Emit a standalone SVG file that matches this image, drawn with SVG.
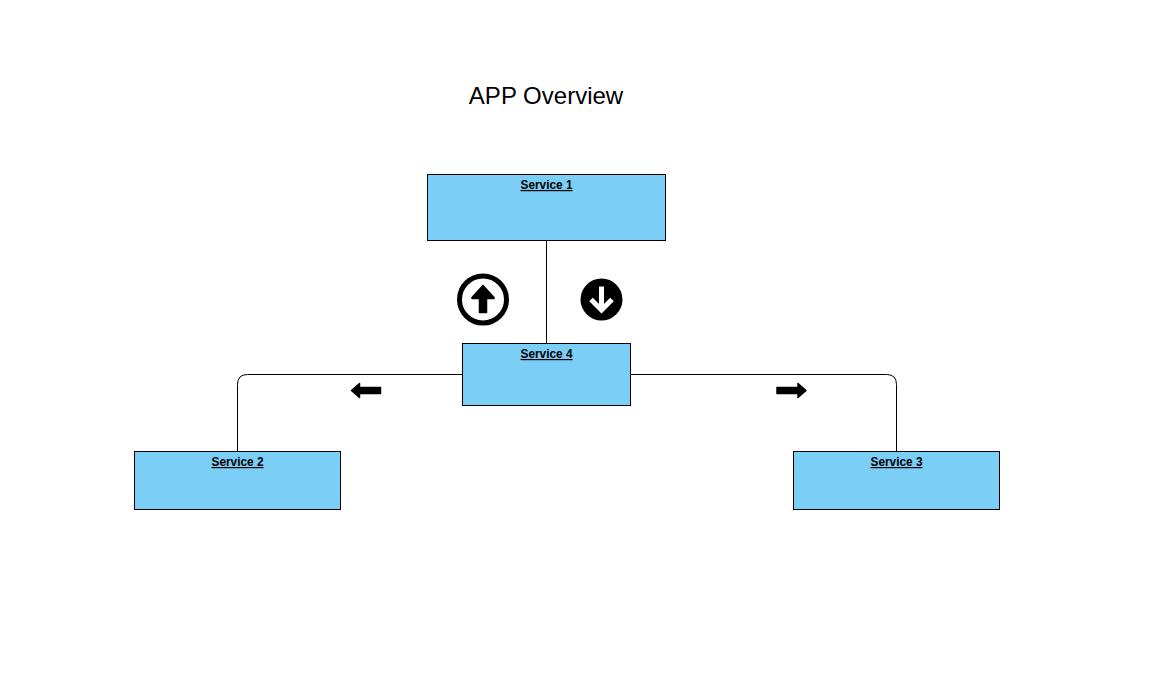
<svg xmlns="http://www.w3.org/2000/svg" width="1164" height="674" viewBox="0 0 1164 674">
<style>
.box{fill:#7bcef6;stroke:#000;stroke-width:1}
.lbl{font:bold 12px "Liberation Sans",Arial,sans-serif;text-anchor:middle;text-decoration:underline;fill:#000}
.con{fill:none;stroke:#000;stroke-width:1}
</style>
<rect width="1164" height="674" fill="#fff"/>
<text id="title" x="546" y="104" font-family="'Liberation Sans',Arial,sans-serif" font-size="24" text-anchor="middle" fill="#000">APP Overview</text>
<g id="connectors">
<path class="con" d="M546.500 241V343"/>
<path class="con" d="M462 374.500H247.500Q237.500 374.500 237.500 384.500V451"/>
<path class="con" d="M631 374.500H886.500Q896.500 374.500 896.500 384.500V451"/>
</g>
<g id="service1"><rect class="box" x="427.500" y="174.500" width="238" height="66"/><text class="lbl" x="546.500" y="189" textLength="52" lengthAdjust="spacingAndGlyphs">Service 1</text></g>
<g id="service4"><rect class="box" x="462.500" y="343.500" width="168" height="62"/><text class="lbl" x="546.500" y="358" textLength="52" lengthAdjust="spacingAndGlyphs">Service 4</text></g>
<g id="service2"><rect class="box" x="134.500" y="451.500" width="206" height="58"/><text class="lbl" x="237.500" y="466" textLength="52" lengthAdjust="spacingAndGlyphs">Service 2</text></g>
<g id="service3"><rect class="box" x="793.500" y="451.500" width="206" height="58"/><text class="lbl" x="896.500" y="466" textLength="52" lengthAdjust="spacingAndGlyphs">Service 3</text></g>
<g id="icon-up"><circle cx="483" cy="299.500" r="23.500" fill="#fff" stroke="#000" stroke-width="5"/><path d="M483 285.500L472 297.500V298.500H479.500V312.500H486.500V298.500H494V297.500Z" fill="#000" stroke="#000" stroke-width="1.500" stroke-linejoin="round"/></g>
<g id="icon-down"><circle cx="601.500" cy="299.500" r="21" fill="#000"/><path d="M601.500 286.500V309M591 299.500L601.500 310L612 299.500" fill="none" stroke="#fff" stroke-width="5"/></g>
<path id="arrow-left" d="M351.500 390.500L359.500 383.500V387.500H380.500V393.500H359.500V397.500Z" fill="#000" stroke="#000" stroke-width="1.500" stroke-linejoin="round"/>
<path id="arrow-right" d="M806 390.500L798 383.500V387.500H777V393.500H798V397.500Z" fill="#000" stroke="#000" stroke-width="1.500" stroke-linejoin="round"/>
</svg>
